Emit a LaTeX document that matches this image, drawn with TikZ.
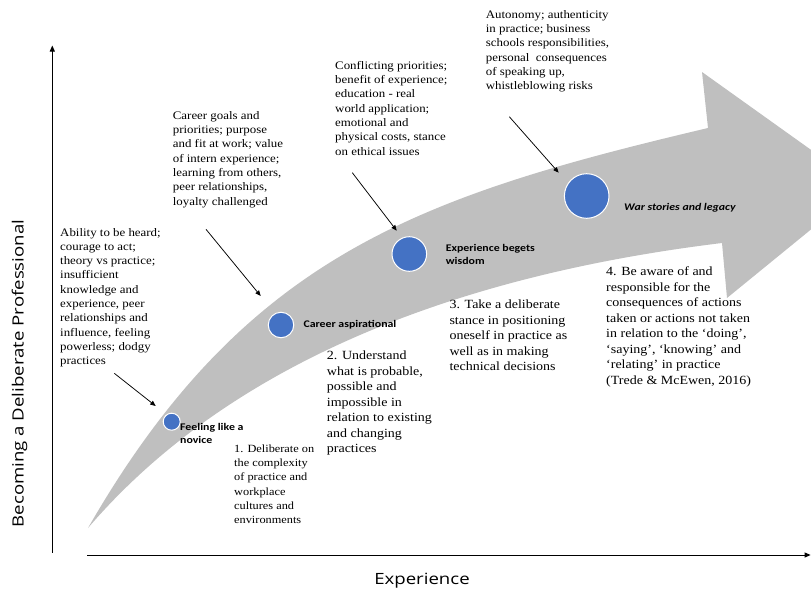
\documentclass[tikz,border=0pt]{standalone}
\usepackage{fontspec}
\setmainfont{Liberation Serif}
\newfontfamily\notefont{Liberation Serif}[FakeStretch=1.12]
\newfontfamily\tagfont{Carlito}[FakeStretch=1.16]
\newfontfamily\axisfont{Open Sans}[FakeStretch=1.2]
\usetikzlibrary{arrows.meta}
\definecolor{bandgray}{HTML}{BFBFBF}
\definecolor{dotblue}{HTML}{4472C4}
% left-aligned block whose baseline is that of its first line
\newcommand\stack[1]{\begin{tabular}[t]{@{}l@{}}#1\end{tabular}}

\begin{document}
\begin{tikzpicture}[x=1pt,y=-1pt,
  note/.style={anchor=base west, inner sep=0pt, font=\notefont\fontsize{11.5}{14.3}\selectfont},
  stage/.style={anchor=base west, inner sep=0pt, font=\notefont\fontsize{12.5}{15.5}\selectfont},
  tag/.style={anchor=base west, inner sep=0pt, font=\tagfont\bfseries\fontsize{10.2}{12.6}\selectfont},
  dot/.style={circle, fill=dotblue, draw=white, line width=1pt, inner sep=0pt},
  pointer/.style={draw=black, line width=0.75pt, -{Triangle[length=5.5pt,width=4.5pt]}},
  axis/.style={draw=black, line width=1pt, -{Triangle[length=6pt,width=5pt]}},
  axislabel/.style={inner sep=0pt, anchor=base, font=\axisfont\fontsize{15.5}{18}\selectfont}]

\useasboundingbox (0,0) rectangle (811,589);

% curved growth arrow
\begin{scope}
  \clip (0,0) rectangle (811,589);
  \fill[bandgray] (88,528) .. controls (245,255) and (420,196) .. (708,128)
    -- (702,72) -- (863,187) -- (727,298) -- (722,243)
    .. controls (492,271) and (244,346) .. (88,528) -- cycle;
\end{scope}

% stages along the arrow
\node[dot, minimum size=17pt]   (novice) at (171.7,421.7) {};
\node[dot, minimum size=25.5pt] (career) at (281,325) {};
\node[dot, minimum size=34.6pt] (wisdom) at (409.3,254) {};
\node[dot, minimum size=44.6pt] (legacy) at (586.7,196) {};

\node[tag] (noviceT) at (180,430.7) {\stack{Feeling like a\\novice}};
\node[tag] (careerT) at (303.3,327.4) {Career aspirational};
\node[tag] (wisdomT) at (445.7,251.7) {\stack{Experience begets\\wisdom}};
\node[tag] (legacyT) at (624,210.7) {\itshape War stories and legacy};

% themes above the arrow
\node[note] (themeA) at (60,236) {\stack{Ability to be heard;\\courage to act;\\theory vs practice;\\insufficient\\knowledge and\\experience, peer\\relationships and\\influence, feeling\\powerless; dodgy\\practices}};
\node[note] (themeB) at (172.7,119.3) {\stack{Career goals and\\priorities; purpose\\and fit at work; value\\of intern experience;\\learning from others,\\peer relationships,\\loyalty challenged}};
\node[note] (themeC) at (335,69.3) {\stack{Conflicting priorities;\\benefit of experience;\\education - real\\world application;\\emotional and\\physical costs, stance\\on ethical issues}};
\node[note] (themeD) at (485.7,18.3) {\stack{Autonomy; authenticity\\in practice; business\\schools responsibilities,\\personal~ consequences\\of speaking up,\\whistleblowing risks}};

% numbered stages below the arrow
\node[note, font=\notefont\fontsize{11}{14.2}\selectfont] (stepA) at (234,452.5) {\stack{1. Deliberate on\\the complexity\\of practice and\\workplace\\cultures and\\environments}};
\node[stage] (stepB) at (326.7,359.5) {\stack{2. Understand\\what is probable,\\possible and\\impossible in\\relation to existing\\and changing\\practices}};
\node[stage] (stepC) at (449.3,308.5) {\stack{3. Take a deliberate\\stance in positioning\\oneself in practice as\\well as in making\\technical decisions}};
\node[stage] (stepD) at (606,275.5) {\stack{4. Be aware of and\\responsible for the\\consequences of actions\\taken or actions not taken\\in relation to the ‘doing’,\\‘saying’, ‘knowing’ and\\‘relating’ in practice\\(Trede \& McEwen, 2016)}};

% pointers from themes to the arrow
\coordinate (pA0) at (114.3,373.3);
\coordinate (pA1) at (155.7,406);
\coordinate (pB0) at (206,229.3);
\coordinate (pB1) at (260.7,296);
\coordinate (pC0) at (352.3,172.7);
\coordinate (pC1) at (396.7,230.7);
\coordinate (pD0) at (509.3,116.7);
\coordinate (pD1) at (558.7,172.7);
\draw[pointer] (pA0) -- (pA1);
\draw[pointer] (pB0) -- (pB1);
\draw[pointer] (pC0) -- (pC1);
\draw[pointer] (pD0) -- (pD1);

% axes
\coordinate (yBase) at (52.3,552.7);
\coordinate (yTop) at (52.3,45.5);
\coordinate (xBase) at (87.3,555);
\coordinate (xEnd) at (810.6,555);
\draw[axis] (yBase) -- (yTop);
\draw[axis] (xBase) -- (xEnd);

\node[axislabel] (xlabel) at (422,584) {Experience};
\node[axislabel, rotate=90] (ylabel) at (23.5,373.5) {Becoming a Deliberate Professional};

\end{tikzpicture}
\end{document}
